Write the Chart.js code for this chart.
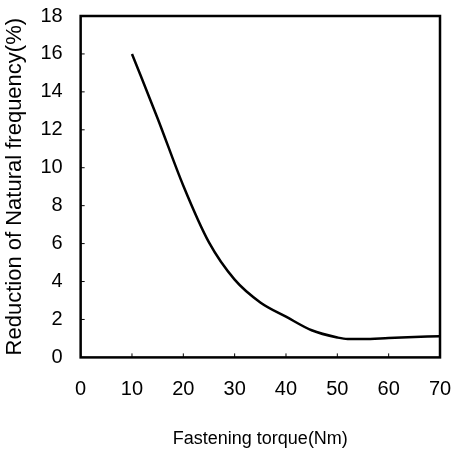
<!DOCTYPE html>
<html>
<head>
<meta charset="utf-8">
<script src="https://cdn.jsdelivr.net/npm/chart.js@4"></script>
<style>
  body { margin: 0; background: #fff; }
  #wrap { width: 454px; height: 450px; }
</style>
</head>
<body>
<div id="wrap"><canvas id="chart"></canvas></div>
<script>
// data
const torque = [10, 15, 20, 25, 30, 35, 40, 45, 50, 52, 55, 60, 65, 70];
const reduction = [16, 12.6, 9.05, 6.06, 4.1, 2.9, 2.15, 1.43, 1.05, 0.97, 0.97, 1.02, 1.07, 1.12];
const xTicks = [0, 10, 20, 30, 40, 50, 60, 70];
const yTicks = [0, 2, 4, 6, 8, 10, 12, 14, 16, 18];

// frame + inward tick marks
const frame = {
  id: 'frame',
  afterDatasetsDraw(chart) {
    const { ctx, chartArea: a, scales } = chart;
    ctx.save();
    ctx.strokeStyle = '#000';
    ctx.lineWidth = 1;
    xTicks.forEach(v => {
      const px = scales.x.getPixelForValue(v);
      ctx.beginPath(); ctx.moveTo(px, a.bottom); ctx.lineTo(px, a.bottom - 4); ctx.stroke();
    });
    yTicks.forEach(v => {
      const py = scales.y.getPixelForValue(v);
      ctx.beginPath(); ctx.moveTo(a.left, py); ctx.lineTo(a.left + 4, py); ctx.stroke();
    });
    ctx.lineWidth = 2.5;
    ctx.strokeRect(a.left, a.top, a.right - a.left, a.bottom - a.top);
    ctx.restore();
  }
};

new Chart(document.getElementById('chart'), {
  type: 'line',
  data: {
    datasets: [{
      data: torque.map((t, i) => ({ x: t, y: reduction[i] })),
      borderColor: '#000',
      borderWidth: 2.5,
      pointRadius: 0,
      cubicInterpolationMode: 'monotone',
      fill: false
    }]
  },
  options: {
    responsive: true,
    maintainAspectRatio: false,
    animation: false,
    layout: { padding: { top: 0, right: 0, left: 2, bottom: 0 } },
    plugins: { legend: { display: false }, tooltip: { enabled: false } },
    scales: {
      x: {
        type: 'linear', min: 0, max: 70,
        afterBuildTicks: s => { s.ticks = xTicks.map(v => ({ value: v })); },
        afterFit: s => { s.paddingRight = 14; },
        grid: { display: false },
        border: { display: false },
        ticks: { color: '#000', padding: 12, font: { family: 'Liberation Sans, Arial', size: 20 } },
        title: {
          display: true, text: 'Fastening torque(Nm)', color: '#000',
          font: { family: 'Liberation Sans, Arial', size: 18 },
          padding: { top: 15, bottom: 0 }
        }
      },
      y: {
        min: 0, max: 18,
        afterBuildTicks: s => { s.ticks = yTicks.map(v => ({ value: v })); },
        afterFit: s => { s.paddingTop = 16; },
        grid: { display: false },
        border: { display: false },
        ticks: { color: '#000', padding: 10, font: { family: 'Liberation Sans, Arial', size: 20 } },
        title: {
          display: true, text: 'Reduction of Natural frequency(%)', color: '#000',
          font: { family: 'Liberation Sans, Arial', size: 22 },
          padding: { top: 0, bottom: 2 }
        }
      }
    }
  },
  plugins: [frame]
});
</script>
</body>
</html>
